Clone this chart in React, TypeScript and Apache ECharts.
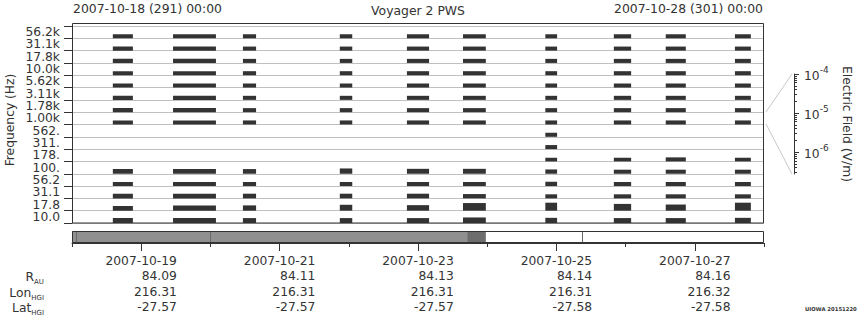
import React, { useEffect, useRef } from 'react';
import * as echarts from 'echarts';

// Frequency channels, bottom (index 0) to top
const channels = ['10.0', '17.8', '31.1', '56.2', '100.', '178.', '311.', '562.', '1.00k', '1.78k', '3.11k', '5.62k', '10.0k', '17.8k', '31.1k', '56.2k'];

// Data segments in 2007 day-of-year (fractional)
const segStart = [291.59, 292.46, 293.47, 294.87, 295.84, 296.65, 297.84, 298.83, 299.58, 300.58];
const segEnd = [291.88, 293.08, 293.66, 295.05, 296.16, 296.98, 298.01, 299.08, 299.87, 300.81];

// Relative intensity level per channel (fraction of a channel row), 0 = no data
const seg1 = [0.40, 0.38, 0.38, 0.33, 0.38, 0, 0, 0, 0.33, 0.33, 0.33, 0.33, 0.33, 0.33, 0.33, 0.33];
const seg2 = [0.40, 0.43, 0.38, 0.33, 0.38, 0, 0, 0, 0.33, 0.33, 0.33, 0.33, 0.33, 0.33, 0.33, 0.33];
const seg3 = [0.40, 0.43, 0.38, 0.33, 0.38, 0, 0, 0, 0.33, 0.33, 0.33, 0.33, 0.33, 0.33, 0.33, 0.33];
const seg4 = [0.40, 0.48, 0.38, 0.33, 0.43, 0, 0, 0, 0.33, 0.33, 0.33, 0.33, 0.33, 0.33, 0.33, 0.33];
const seg5 = [0.40, 0.45, 0.38, 0.33, 0.40, 0, 0, 0, 0.33, 0.33, 0.33, 0.33, 0.33, 0.33, 0.33, 0.33];
const seg6 = [0.45, 0.62, 0.35, 0.33, 0.40, 0, 0, 0, 0.33, 0.33, 0.33, 0.33, 0.33, 0.33, 0.33, 0.33];
const seg7 = [0.42, 0.65, 0.33, 0.35, 0.35, 0.30, 0.33, 0.33, 0.33, 0.33, 0.33, 0.33, 0.33, 0.33, 0.33, 0.33];
const seg8 = [0.40, 0.55, 0.33, 0.33, 0.33, 0.30, 0, 0, 0.33, 0.33, 0.33, 0.33, 0.33, 0.33, 0.33, 0.33];
const seg9 = [0.40, 0.50, 0.33, 0.33, 0.33, 0.33, 0, 0, 0.33, 0.33, 0.33, 0.33, 0.33, 0.33, 0.33, 0.33];
const seg10 = [0.42, 0.65, 0.33, 0.33, 0.33, 0.30, 0, 0, 0.33, 0.33, 0.33, 0.33, 0.33, 0.33, 0.33, 0.33];
const segLevels = [seg1, seg2, seg3, seg4, seg5, seg6, seg7, seg8, seg9, seg10];

// Time axis
const dayCats = ['2007-10-18', '2007-10-19', '2007-10-20', '2007-10-21', '2007-10-22', '2007-10-23', '2007-10-24', '2007-10-25', '2007-10-26', '2007-10-27', '2007-10-28'];
const labeledDays = ['2007-10-19', '2007-10-21', '2007-10-23', '2007-10-25', '2007-10-27'];
const rAU = ['84.09', '84.11', '84.13', '84.14', '84.16'];
const lonHGI = ['216.31', '216.31', '216.31', '216.31', '216.32'];
const latHGI = ['-27.57', '-27.57', '-27.57', '-27.58', '-27.58'];

// Coverage strip
const stripStart = [291.0, 296.71];
const stripEnd = [296.71, 296.98];
const stripLevel = [1, 2];
const stripMarks = [291.06, 293.0, 298.37];

// Electric field scale (log10 V/m)
const fieldExpMin = -6.56;
const fieldExpMax = -4;
const fieldMajor = [-6, -5, -4];

const FONT = 'DejaVu Sans';
const INK = '#333';

export default function App() {
  const ref = useRef<HTMLDivElement>(null);
  useEffect(() => {
    document.body.style.margin = '0';
    const chart = echarts.init(ref.current!, null, { renderer: 'svg' });

    const barData: number[][] = [];
    segStart.forEach((s, i) => {
      segLevels[i].forEach((lv, ch) => {
        if (lv > 0) barData.push([s, segEnd[i], ch, lv]);
      });
    });
    const stripData = stripStart.map((s, i) => [s, stripEnd[i], stripLevel[i]]);
    const fieldMinor: number[] = [];
    for (let n = -7; n <= -5; n++) {
      for (let k = 2; k <= 9; k++) {
        const v = n + Math.log10(k);
        if (v >= fieldExpMin && v <= fieldExpMax) fieldMinor.push(v);
      }
    }
    const oddIdx = (i: number) => i % 2 === 1;
    const subRich = {
      a: { fontSize: 12.3, fontFamily: FONT, fill: INK, color: INK, verticalAlign: 'top' },
      b: { fontSize: 7, fontFamily: FONT, fill: INK, color: INK, lineHeight: 14.6, verticalAlign: 'bottom' },
    };

    const option: any = {
      animation: false,
      textStyle: { fontFamily: FONT, color: INK },
      grid: [
        { left: 72, top: 26, width: 692, height: 197, outerBoundsMode: 'none' },
        { left: 72, top: 231, width: 692, height: 12, outerBoundsMode: 'none' },
        { left: 760, top: 74, width: 34, height: 100, outerBoundsMode: 'none' },
      ],
      xAxis: [
        { gridIndex: 0, type: 'value', min: 291, max: 301, show: false },
        { gridIndex: 1, type: 'value', min: 291, max: 301, show: false },
        {
          gridIndex: 1, type: 'category', data: dayCats, boundaryGap: false, position: 'bottom',
          axisLine: { show: true, onZero: false, lineStyle: { color: INK } },
          axisTick: { show: true, length: 4, interval: 0, lineStyle: { color: INK } },
          axisLabel: { show: false }, splitLine: { show: false },
        },
        {
          gridIndex: 1, type: 'category', data: dayCats, boundaryGap: false, position: 'bottom',
          axisLine: { show: false, onZero: false },
          axisTick: { show: true, length: 8, interval: oddIdx, lineStyle: { color: INK } },
          axisLabel: {
            show: true, interval: oddIdx, margin: 10, fontFamily: FONT, fontSize: 12.3, color: INK,
            formatter: (val: string) => {
              const k = labeledDays.indexOf(val);
              if (k < 0) return '';
              return `{d|${val}}\n{n|${rAU[k]}}\n{n|${lonHGI[k]}}\n{n|${latHGI[k]}}`;
            },
            rich: {
              d: { align: 'right', fontSize: 12.3, lineHeight: 15.5, color: INK, fontFamily: FONT },
              n: { align: 'right', fontSize: 12.3, lineHeight: 15.5, color: INK, fontFamily: FONT },
            },
          },
          splitLine: { show: false },
        },
        { gridIndex: 2, type: 'value', show: false, min: 0, max: 1 },
      ],
      yAxis: [
        {
          gridIndex: 0, type: 'category', data: channels,
          axisLine: { show: true, onZero: false, lineStyle: { color: INK } },
          axisTick: { show: true, length: 8, interval: 0, lineStyle: { color: INK } },
          axisLabel: { interval: 0, margin: 12, fontSize: 12.3, color: INK, fontFamily: FONT },
          splitLine: { show: true, interval: 0, lineStyle: { color: '#c0c0c0' } },
        },
        { gridIndex: 1, type: 'value', min: 0, max: 1, show: false },
        {
          gridIndex: 2, type: 'value', min: fieldExpMin, max: fieldExpMax, position: 'right',
          axisLine: { show: true, onZero: false, lineStyle: { color: INK } },
          axisTick: { show: true, length: 3, customValues: fieldMinor, lineStyle: { color: INK } },
          axisLabel: { show: false }, splitLine: { show: false },
        },
        {
          gridIndex: 2, type: 'value', min: fieldExpMin, max: fieldExpMax, position: 'right',
          axisLine: { show: false, onZero: false },
          axisTick: { show: true, length: 5, customValues: fieldMajor, lineStyle: { color: INK } },
          axisLabel: {
            show: true, customValues: fieldMajor, margin: 10,
            formatter: (v: number) => `{b|10}{s|${Math.round(v)}}`,
            rich: {
              b: { fontSize: 12.3, color: INK, fontFamily: FONT, lineHeight: 16.4, verticalAlign: 'bottom' },
              s: { fontSize: 9, color: INK, fontFamily: FONT, verticalAlign: 'top' },
            },
          },
          splitLine: { show: false },
        },
      ],
      series: [
        {
          type: 'custom', xAxisIndex: 0, yAxisIndex: 0, silent: true,
          data: barData,
          encode: { x: [0, 1], y: 2 },
          renderItem: (params: any, api: any) => {
            const a = api.coord([api.value(0), api.value(2)]);
            const b = api.coord([api.value(1), api.value(2)]);
            const bandH = api.size([0, 1])[1];
            const bottom = a[1] + bandH / 2;
            const h = bandH * api.value(3);
            return {
              type: 'rect',
              shape: { x: a[0], y: bottom - h, width: b[0] - a[0], height: h },
              style: { fill: '#333333' },
            };
          },
        },
        {
          type: 'custom', xAxisIndex: 1, yAxisIndex: 1, silent: true,
          data: stripData,
          encode: { x: [0, 1] },
          renderItem: (params: any, api: any) => {
            const a = api.coord([api.value(0), 1]);
            const b = api.coord([api.value(1), 0]);
            const lv = api.value(2);
            return {
              type: 'rect',
              shape: { x: a[0], y: a[1], width: b[0] - a[0], height: b[1] - a[1] },
              style: { fill: lv === 2 ? '#6e6e6e' : '#909090' },
            };
          },
        },
        {
          type: 'custom', xAxisIndex: 1, yAxisIndex: 1, silent: true,
          data: stripMarks.map((m) => [m]),
          encode: { x: 0 },
          renderItem: (params: any, api: any) => {
            const a = api.coord([api.value(0), 1]);
            const b = api.coord([api.value(0), 0]);
            return {
              type: 'line',
              shape: { x1: Math.round(a[0]) + 0.5, y1: a[1], x2: Math.round(b[0]) + 0.5, y2: b[1] },
              style: { stroke: '#6a6a6a', lineWidth: 1 },
            };
          },
        },
      ],
      graphic: [
        { type: 'rect', z: 100, shape: { x: 72.5, y: 23.5, width: 691, height: 199.5 }, style: { fill: 'none', stroke: INK, lineWidth: 1 } },
        { type: 'rect', z: 100, shape: { x: 72.5, y: 231.5, width: 691, height: 11 }, style: { fill: 'none', stroke: INK, lineWidth: 1 } },
        { type: 'polyline', z: 100, shape: { points: [[766, 112], [792, 74]] }, style: { stroke: '#c8c8c8', lineWidth: 1, fill: 'none' } },
        { type: 'polyline', z: 100, shape: { points: [[766, 124], [792, 174]] }, style: { stroke: '#c8c8c8', lineWidth: 1, fill: 'none' } },
        { type: 'text', x: 73, y: 8, style: { text: '2007-10-18 (291) 00:00', fontFamily: FONT, fontSize: 12.4, fill: INK, align: 'left', textAlign: 'left', verticalAlign: 'middle', textVerticalAlign: 'middle' } },
        { type: 'text', x: 418, y: 10, style: { text: 'Voyager 2 PWS', fontFamily: FONT, fontSize: 12.4, fill: INK, align: 'center', textAlign: 'center', verticalAlign: 'middle', textVerticalAlign: 'middle' } },
        { type: 'text', x: 763, y: 8, style: { text: '2007-10-28 (301) 00:00', fontFamily: FONT, fontSize: 12.4, fill: INK, align: 'right', textAlign: 'right', verticalAlign: 'middle', textVerticalAlign: 'middle' } },
        { type: 'text', x: 10, y: 120, rotation: Math.PI / 2, style: { text: 'Frequency (Hz)', fontFamily: FONT, fontSize: 12.3, fill: INK, align: 'center', textAlign: 'center', verticalAlign: 'middle', textVerticalAlign: 'middle' } },
        { type: 'text', x: 847, y: 124, rotation: -Math.PI / 2, style: { text: 'Electric Field (V/m)', fontFamily: FONT, fontSize: 12.3, fill: INK, align: 'center', textAlign: 'center', verticalAlign: 'middle', textVerticalAlign: 'middle' } },
        { type: 'text', x: 44, y: 278, style: { text: '{a|R}{b|AU}', align: 'right', textAlign: 'right', verticalAlign: 'middle', textVerticalAlign: 'middle', rich: subRich } },
        { type: 'text', x: 44, y: 294, style: { text: '{a|Lon}{b|HGI}', align: 'right', textAlign: 'right', verticalAlign: 'middle', textVerticalAlign: 'middle', rich: subRich } },
        { type: 'text', x: 44, y: 309, style: { text: '{a|Lat}{b|HGI}', align: 'right', textAlign: 'right', verticalAlign: 'middle', textVerticalAlign: 'middle', rich: subRich } },
        { type: 'text', x: 805, y: 309, style: { text: 'UIOWA 20151220', fontFamily: FONT, fontSize: 5.3, fontWeight: 'bold', fill: INK, align: 'left', textAlign: 'left', verticalAlign: 'middle', textVerticalAlign: 'middle' } },
      ],
    };

    chart.setOption(option);
    return () => chart.dispose();
  }, []);
  return <div ref={ref} style={{ width: 860, height: 320 }} />;
}
